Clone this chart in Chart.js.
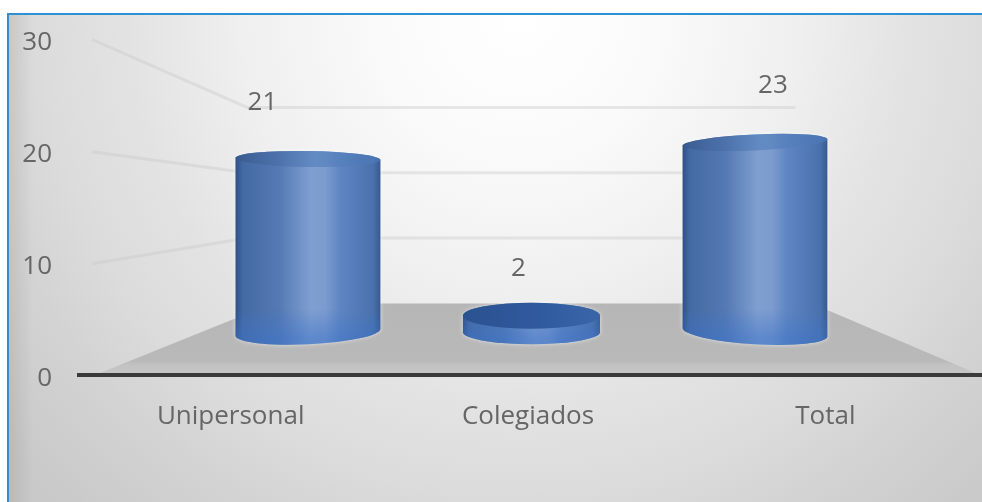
<!DOCTYPE html>
<html>
<head>
<meta charset="utf-8">
<script src="https://cdn.jsdelivr.net/npm/chart.js@4"></script>
<style>
  html, body { margin: 0; background: #fff; overflow: hidden; }
  #frame {
    position: absolute; left: 7px; top: 13px; right: 0; bottom: 0;
    border-top: 2px solid #2f8fd0; border-left: 2px solid #2f8fd0;
    background:
      linear-gradient(90deg, rgba(0,0,0,0.08) 0, rgba(0,0,0,0) 24px),
      radial-gradient(ellipse 670px 670px at 510px 0px, #ffffff 0%, #fafafa 21%, #efefef 42%, #e3e3e3 58%, #dcdcdc 71%, #d3d3d3 83%, #c9c9c9 100%);
  }
  #cylChart { position: absolute; left: 0; top: 0; }
</style>
</head>
<body>
<div id="frame"></div>
<canvas id="cylChart" width="982" height="502"></canvas>
<script>
const categories = ['Unipersonal', 'Colegiados', 'Total'];
const values = [21, 2, 23];
const yTicks = [0, 10, 20, 30];

const textColor = '#666666';
const fontName = '"Open Sans", sans-serif';

// where each value label sits from the top of its cylinder
const labelShift = [[-45.5, -48.5], [-13, -34.4], [18, -48.5]];
// the cylinders lean a little with the perspective
const footTilt = [-0.048, 0, 0.06];
const lidTilt = [0.015, 0, -0.045];

function sideGradient(ctx, left, right) {
    const g = ctx.createLinearGradient(left, 0, right, 0);
    g.addColorStop(0, '#2f4f86');
    g.addColorStop(0.05, '#446aa3');
    g.addColorStop(0.3, '#5479b4');
    g.addColorStop(0.52, '#7f9fd0');
    g.addColorStop(0.62, '#7c9bce');
    g.addColorStop(0.72, '#5f86c2');
    g.addColorStop(0.95, '#4a71ac');
    g.addColorStop(1, '#37598f');
    return g;
}

// floor and the perspective gridlines, behind the bars
const wallPlugin = {
    id: 'wall',
    beforeDatasetsDraw(chart) {
        const ctx = chart.ctx;
        const a = chart.chartArea;
        const wall = chart.scales.yWall;
        const xb = chart.scales.xBack;
        const backY = wall.getPixelForValue(0);
        const backL = xb.getPixelForValue(-0.16);
        const backR = xb.getPixelForValue(2.255);

        ctx.save();
        ctx.beginPath();
        ctx.moveTo(a.left + 13, a.bottom);
        ctx.lineTo(backL, backY);
        ctx.lineTo(backR, backY);
        ctx.lineTo(a.right + 6, a.bottom);
        ctx.closePath();
        const fl = ctx.createLinearGradient(0, backY, 0, a.bottom);
        fl.addColorStop(0, '#b6b6b6');
        fl.addColorStop(0.8, '#b9b9b9');
        fl.addColorStop(0.86, '#c2c2c2');
        fl.addColorStop(1, '#c6c6c6');
        ctx.fillStyle = fl;
        ctx.fill();

        ctx.lineWidth = 3;
        ctx.strokeStyle = 'rgba(200,200,200,0.4)';
        yTicks.slice(1).forEach(t => {
            const front = chart.scales.y.getPixelForValue(t);
            const back = wall.getPixelForValue(t);
            ctx.beginPath();
            ctx.moveTo(a.left + 10, front + 1);
            ctx.lineTo(backL - 25, back);
            ctx.lineTo(xb.getPixelForValue(2.18), back);
            ctx.stroke();
        });

        // axis line
        ctx.fillStyle = '#3a3a3a';
        ctx.fillRect(a.left - 5, a.bottom - 2, a.width + 13, 4);
        ctx.restore();
    }
};

// bars get their cylinder look here, from the geometry Chart.js worked out
const cylinderPlugin = {
    id: 'cylinder',
    afterDatasetsDraw(chart) {
        const ctx = chart.ctx;
        const meta = chart.getDatasetMeta(0);
        meta.data.forEach((el, i) => {
            const short = values[i] < 5;
            const w = short ? el.width * 0.945 : el.width;
            const rx = w / 2;
            const ry = 12;
            const lidRy = short ? 13 : 8;
            const left = el.x - rx;
            const right = el.x + rx;
            const top = el.y;
            const base = el.base;

            ctx.save();
            ctx.shadowColor = 'rgba(255,255,255,0.6)';
            ctx.shadowBlur = 4;
            ctx.beginPath();
            ctx.ellipse(el.x, top, rx, lidRy, lidTilt[i], Math.PI, 0, false);
            ctx.ellipse(el.x, base, rx, ry, footTilt[i], 0, Math.PI, false);
            ctx.closePath();
            ctx.fillStyle = sideGradient(ctx, left, right);
            ctx.fill();
            ctx.shadowBlur = 0;

            // saturated band fading in towards the foot
            ctx.beginPath();
            ctx.moveTo(right, base - 24);
            ctx.ellipse(el.x, base, rx, ry, footTilt[i], 0, Math.PI, false);
            ctx.lineTo(left, base - 24);
            ctx.closePath();
            const foot = ctx.createLinearGradient(0, base - 24, 0, base + 6);
            foot.addColorStop(0, 'rgba(60,115,200,0)');
            foot.addColorStop(1, 'rgba(60,115,200,0.5)');
            ctx.fillStyle = foot;
            ctx.fill();

            // lid, only just darker than the side unless it is the short disc
            const lid = ctx.createLinearGradient(left, 0, right, 0);
            lid.addColorStop(0, short ? '#2b5290' : '#38588e');
            lid.addColorStop(0.55, short ? '#305a9e' : '#5c86c0');
            lid.addColorStop(1, short ? '#3a66a8' : '#4a76b4');
            ctx.globalAlpha = short ? 1 : 0.8;
            ctx.beginPath();
            ctx.ellipse(el.x, top, rx, lidRy, lidTilt[i], 0, Math.PI * 2);
            ctx.fillStyle = lid;
            ctx.fill();
            ctx.restore();

            ctx.save();
            ctx.fillStyle = textColor;
            ctx.font = '26px ' + fontName;
            ctx.textAlign = 'center';
            ctx.textBaseline = 'middle';
            const [dx, dy] = labelShift[i];
            ctx.fillText(String(values[i]), el.x + dx, top - lidRy + dy);
            ctx.restore();
        });
    }
};

new Chart(document.getElementById('cylChart'), {
    type: 'bar',
    plugins: [wallPlugin, cylinderPlugin],
    data: {
        labels: categories,
        datasets: [{
            label: 'Total',
            data: values.map((v, i) => ({ x: i, y: v })),
            xAxisID: 'xBack',
            yAxisID: 'yBars',
            barThickness: 145,
            backgroundColor: 'rgba(0,0,0,0)',
            borderWidth: 0
        }]
    },
    options: {
        responsive: false,
        animation: false,
        layout: { padding: { top: 38.5, right: 8, bottom: 51.8, left: 0 } },
        plugins: { legend: { display: false }, tooltip: { enabled: false } },
        scales: {
            x: {
                type: 'category',
                labels: categories,
                grid: { display: false },
                border: { display: false },
                ticks: {
                    color: textColor, padding: 18, maxRotation: 0,
                    font: { family: fontName, size: 26 }
                }
            },
            y: {
                min: 0, max: 30,
                grid: { display: false },
                border: { display: false },
                afterFit(s) { s.width = 82; },
                afterBuildTicks(s) { s.ticks = yTicks.map(v => ({ value: v })); },
                ticks: {
                    color: textColor, padding: 22, labelOffset: 4,
                    font: { family: fontName, size: 26 }
                }
            },
            // perspective: the cylinders stand on the floor, nearer the back wall
            xBack: { type: 'linear', axis: 'x', display: false, min: -1.011, max: 2.98, offset: false },
            yBars: { type: 'linear', axis: 'y', display: false, min: -5.18, max: 35.6 },
            yWall: { type: 'linear', axis: 'y', display: false, min: -10.96, max: 40.56 }
        }
    }
});
</script>
</body>
</html>
